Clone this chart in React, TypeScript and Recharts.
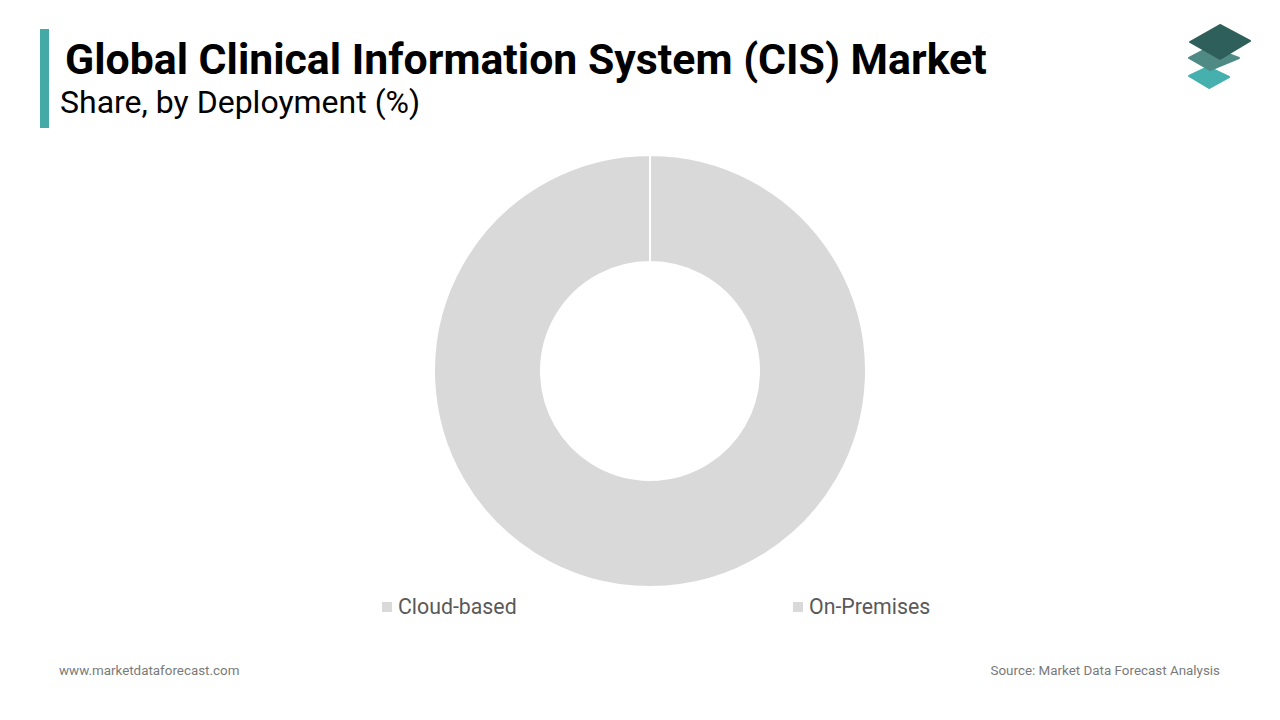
import React from 'react';
import { PieChart, Pie, Cell, Legend } from 'recharts';

const categories = ['Cloud-based', 'On-Premises'];
const shares = [100, 0];
const sliceColors = ['#d9d9d9', '#d9d9d9'];

const data = categories.map((name, i) => ({ name, value: shares[i] }));

const legendX = [382, 793];

const CustomLegend = () => (
  <div style={{ position: 'relative', width: 1280, height: 30 }}>
    {categories.map((name, i) => (
      <div
        key={name}
        style={{
          position: 'absolute',
          left: legendX[i],
          top: 0,
          display: 'flex',
          alignItems: 'center',
          fontFamily: 'Roboto, sans-serif',
          fontSize: 21.3,
          color: '#595959',
        }}
      >
        <span style={{ width: 10, height: 10, background: sliceColors[i], marginRight: 6, display: 'inline-block' }} />
        {name}
      </div>
    ))}
  </div>
);

const Logo = () => (
  <svg width={80} height={80} style={{ position: 'absolute', left: 1180, top: 18 }} viewBox="1180 18 80 80">
    <polygon points="1189,76 1208,67 1229,77 1209,88" fill="#45b0ad" stroke="#45b0ad" strokeWidth={2} strokeLinejoin="round" />
    <polygon points="1189,58 1210,47 1239,58 1210,70" fill="#4f8a85" stroke="#4f8a85" strokeWidth={2} strokeLinejoin="round" />
    <polygon points="1190,42 1220,25 1250,41 1220,59" fill="#2f5f5a" stroke="#2f5f5a" strokeWidth={2} strokeLinejoin="round" />
  </svg>
);

export default function App() {
  return (
    <div style={{ position: 'absolute', left: 0, top: 0, width: 1280, height: 720, background: '#fff', overflow: 'hidden' }}>
      <div style={{ position: 'absolute', left: 40, top: 29, width: 9, height: 99, background: '#44aaa8' }} />
      <div
        style={{
          position: 'absolute',
          left: 65,
          top: 38,
          fontFamily: 'Roboto, sans-serif',
          fontWeight: 700,
          fontSize: 42.8,
          lineHeight: 1,
          color: '#000',
          whiteSpace: 'nowrap',
        }}
      >
        Global Clinical Information System (CIS) Market
      </div>
      <div
        style={{
          position: 'absolute',
          left: 60,
          top: 86,
          fontFamily: 'Roboto, sans-serif',
          fontSize: 32,
          lineHeight: 1,
          color: '#000',
          whiteSpace: 'nowrap',
        }}
      >
        Share, by Deployment (%)
      </div>
      <Logo />

      <div style={{ position: 'absolute', left: 0, top: 0 }}>
        <PieChart width={1280} height={640} margin={{ top: 0, right: 0, bottom: 0, left: 0 }}>
          <Pie
            data={data}
            dataKey="value"
            nameKey="name"
            cx={650}
            cy={371}
            innerRadius={109}
            outerRadius={216}
            startAngle={90}
            endAngle={-270}
            stroke="#ffffff"
            strokeWidth={2}
            isAnimationActive={false}
          >
            {data.map((d, i) => (
              <Cell key={d.name} fill={sliceColors[i]} />
            ))}
          </Pie>
          <Legend
            content={<CustomLegend />}
            wrapperStyle={{ position: 'absolute', left: 0, top: 594, width: 1280 }}
          />
        </PieChart>
      </div>

      <div
        style={{
          position: 'absolute',
          left: 59,
          top: 663,
          fontFamily: 'Roboto, sans-serif',
          fontSize: 13.4,
          color: '#7a7a7a',
        }}
      >
        www.marketdataforecast.com
      </div>
      <div
        style={{
          position: 'absolute',
          right: 60,
          top: 663,
          fontFamily: 'Roboto, sans-serif',
          fontSize: 13.4,
          color: '#7a7a7a',
        }}
      >
        Source: Market Data Forecast Analysis
      </div>
    </div>
  );
}
